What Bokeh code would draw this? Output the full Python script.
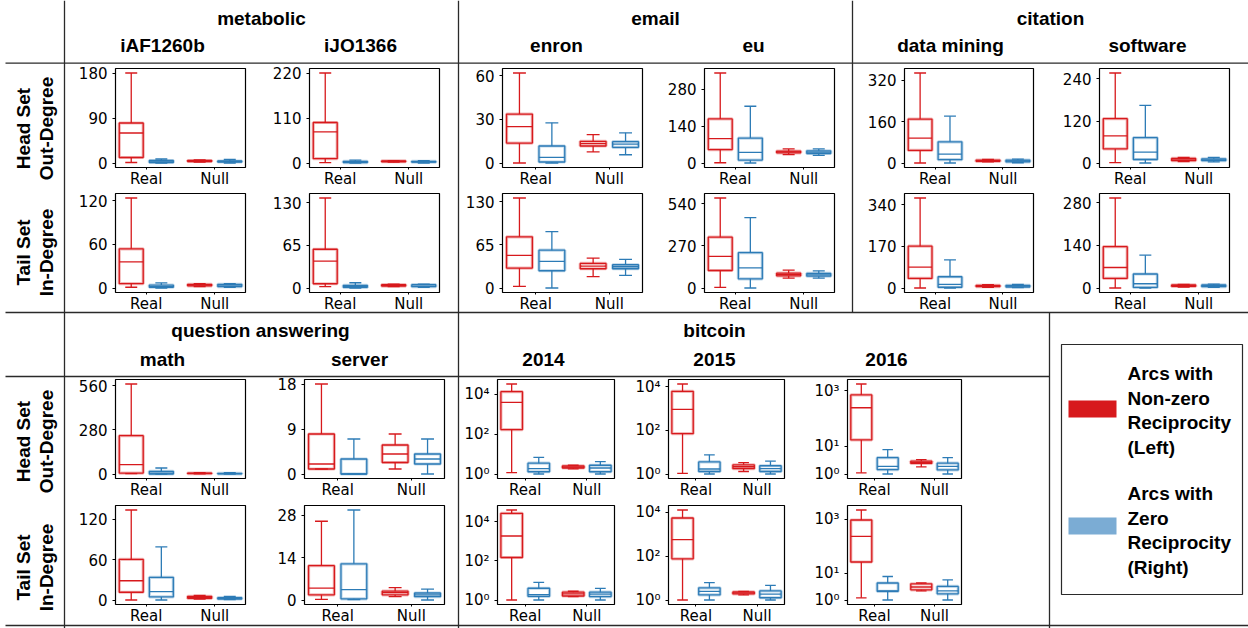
import math
import numpy as np
from bokeh.plotting import figure
from bokeh.models import Range1d, FixedTicker
from bokeh.core.properties import value
from bokeh.embed import file_html
from bokeh.resources import INLINE

# ---------------- data ----------------
CATEGORIES = ["Real", "Null"]
SERIES = ["Arcs with Non-zero Reciprocity (Left)", "Arcs with Zero Reciprocity (Right)"]
GROUP_TITLES = ["metabolic", "email", "citation", "question answering", "bitcoin"]
SUBTITLES = ["iAF1260b", "iJO1366", "enron", "eu", "data mining", "software",
             "math", "server", "2014", "2015", "2016"]
ROW_LABELS = [("Head Set", "Out-Degree"), ("Tail Set", "In-Degree")]
LEGEND_LINES = [["Arcs with", "Non-zero", "Reciprocity", "(Left)"],
                ["Arcs with", "Zero", "Reciprocity", "(Right)"]]

# each box: [low whisker, Q1, median, Q3, high whisker]
# order: Real/non-zero, Real/zero, Null/non-zero, Null/zero
IAF1260B_OUT = [[1, 11, 60, 80, 180], [0, 1, 2, 5, 8], [2, 3, 4, 5, 6], [0, 2, 3, 4, 7]]
IAF1260B_IN = [[1, 6, 36, 54, 124], [0, 1, 2, 4, 7], [2, 3, 4, 5, 6], [1, 2, 3, 5, 6]]
IJO1366_OUT = [[1, 10.5, 76, 99, 220], [0, 1, 2, 4, 7], [2, 3, 4, 5, 6], [0, 2, 3, 4, 6]]
IJO1366_IN = [[2, 6.5, 41, 59, 137], [0, 1, 2, 4, 8], [2, 3, 4, 5, 6], [1, 2, 3, 5, 6]]
ENRON_OUT = [[0, 13.7, 25, 33.7, 62], [0, 0.7, 3.9, 11.7, 27.7], [7.6, 11.7, 13.3, 14.9, 19.5], [5.7, 10.8, 13, 14.7, 20.8]]
ENRON_IN = [[2.5, 30, 49, 77, 135.5], [0, 26, 40, 57, 85], [17, 29, 33, 37, 45], [19, 29, 32, 35, 43]]
EU_OUT = [[1, 51, 92, 167, 341], [0, 11, 40, 94.6, 215], [32, 38.6, 42, 45, 53.5], [28.6, 36, 41, 46, 53.5]]
EU_IN = [[4, 112, 202, 325, 576], [0, 59, 129, 226, 451], [63, 78, 86.5, 95, 114], [63, 76, 84, 93, 110]]
DM_OUT = [[0, 48.5, 96, 170, 348], [0, 13, 34, 82, 181], [4, 6.4, 9, 11.5, 14], [1, 4, 7.7, 11.5, 15]]
DM_IN = [[0, 39, 85, 171, 368], [0, 3, 15, 46, 115], [2.7, 5.4, 8, 11, 13.5], [1.4, 4, 8, 11, 15]]
SW_OUT = [[2, 41, 78, 127, 257], [1, 11, 32, 73, 165], [5, 7.5, 10, 14, 17], [4, 7.5, 10, 13, 17]]
SW_IN = [[0, 31.6, 67.5, 136, 296], [0, 2, 14, 46, 108], [3.3, 5.4, 7.6, 10, 12], [2, 4.4, 7.6, 10, 13]]
MATH_OUT = [[2, 6, 59, 243, 570], [0, 0, 6, 17, 38], [0.5, 2, 4, 6, 8], [0, 1, 2, 4, 8]]
MATH_IN = [[0.5, 12, 29, 60.7, 133.7], [0.5, 5, 13, 34, 79], [2, 3, 4.4, 6, 7.3], [1, 2, 3, 4, 6]]
SERVER_OUT = [[1, 1, 2, 8, 18], [0, 0, 0, 3, 7], [1, 2.3, 4, 5.8, 8], [0, 2, 3, 4, 7]]
SERVER_IN = [[0.3, 1.8, 4, 11.4, 26], [0.2, 0.5, 3.5, 12, 29.7], [1.2, 1.8, 2.5, 3, 4.2], [0.1, 1.2, 1.8, 2.4, 3.7]]
BTC2014_OUT = [[1.17, 170, 3970, 13600, 33000], [1, 1.3, 1.86, 3.5, 6.9], [1.8, 2.0, 2.25, 2.54, 2.75], [1, 1.3, 2.0, 2.75, 4.2]]
BTC2014_IN = [[1, 149, 1870, 27000, 40000], [1, 1.55, 1.9, 4.0, 7.9], [1.5, 1.6, 2.05, 2.5, 2.8], [1, 1.5, 2.0, 2.5, 3.9]]
BTC2015_OUT = [[1.07, 71, 930, 6300, 13700], [1, 1.3, 1.7, 3.6, 7.6], [1.3, 1.75, 2.15, 2.65, 3.3], [1, 1.3, 1.75, 2.4, 3.9]]
BTC2015_IN = [[1, 76, 580, 5600, 13000], [1, 1.7, 2.5, 3.6, 6.2], [1.7, 1.9, 2.1, 2.35, 2.5], [1, 1.27, 1.85, 2.6, 4.7]]
BTC2016_OUT = [[1.1, 17, 247, 720, 1780], [1, 1.45, 1.9, 3.9, 7.6], [1.8, 2.4, 2.6, 2.9, 3.3], [1, 1.4, 1.9, 2.45, 3.9]]
BTC2016_IN = [[1.2, 26, 233, 950, 2240], [1, 2.1, 2.2, 4.3, 7.5], [2.2, 2.4, 3.05, 4.0, 4.3], [1, 1.7, 2.2, 3.2, 5.6]]

# y tick values per panel
IAF1260B_OUT_TICKS = [0, 90, 180]
IAF1260B_IN_TICKS = [0, 60, 120]
IJO1366_OUT_TICKS = [0, 110, 220]
IJO1366_IN_TICKS = [0, 65, 130]
ENRON_OUT_TICKS = [0, 30, 60]
ENRON_IN_TICKS = [0, 65, 130]
EU_OUT_TICKS = [0, 140, 280]
EU_IN_TICKS = [0, 270, 540]
DM_OUT_TICKS = [0, 160, 320]
DM_IN_TICKS = [0, 170, 340]
SW_OUT_TICKS = [0, 120, 240]
SW_IN_TICKS = [0, 140, 280]
MATH_OUT_TICKS = [0, 280, 560]
MATH_IN_TICKS = [0, 60, 120]
SERVER_OUT_TICKS = [0, 9, 18]
SERVER_IN_TICKS = [0, 14, 28]
BTC_TICKS_A = [1, 100, 10000]
BTC_TICKS_B = [1, 10, 1000]

# ---------------- styling / geometry ----------------
RED = "#d7191c"
BLUE = "#2c7bb6"
BLUE_PATCH = "#7bacd4"
LINE_COL = "#2a2a2a"
PAGE_W, PAGE_H = 1248, 628
SUP = str.maketrans("0123456789", "⁰¹²³⁴⁵⁶⁷⁸⁹")


def place(left, top):
    return {"position": "absolute", "left": f"{left}px", "top": f"{top}px"}


L, R, T, B = 46, 4, 4, 22
POS = [1 - 0.22, 1 + 0.22, 2 - 0.22, 2 + 0.22]
COLORS = [RED, BLUE, RED, BLUE]
BOX_W = 0.35


def make_panel(stats, ticks, log, fx, fy):
    fw, fh = fx[1] - fx[0], fy[1] - fy[0]
    vals = [v for s in stats for v in s]
    if log:
        lo, hi = math.log10(min(vals)), math.log10(max(vals))
        pad = 0.05 * (hi - lo)
        yr = Range1d(10 ** (lo - pad), 10 ** (hi + pad))
    else:
        lo, hi = min(vals), max(vals)
        pad = 0.05 * (hi - lo)
        yr = Range1d(lo - pad, hi + pad)
    p = figure(width=L + fw + R, height=T + fh + B, x_range=Range1d(0.55, 2.45), y_range=yr,
               y_axis_type="log" if log else "linear", output_backend="svg",
               toolbar_location=None, min_border_left=L, min_border_right=R,
               min_border_top=T, min_border_bottom=B, background_fill_color=None,
               border_fill_color=None, outline_line_color="black", outline_line_width=1.2,
               styles=place(fx[0] - L, fy[0] - T))
    p.grid.visible = False
    st = np.array(stats, dtype=float)
    lo_, q1, med, q3, hi_ = st.T
    cx = np.array(POS)
    # soft halo then crisp outline for the boxes
    p.vbar(x=cx, bottom=q1, top=q3, width=BOX_W, fill_color=None, line_color=COLORS,
           line_width=3.2, line_alpha=0.3)
    p.vbar(x=cx, bottom=q1, top=q3, width=BOX_W, fill_color=None, line_color=COLORS,
           line_width=1.3)
    p.segment(x0=cx, y0=q3, x1=cx, y1=hi_, line_color=COLORS, line_width=1.3)
    p.segment(x0=cx, y0=q1, x1=cx, y1=lo_, line_color=COLORS, line_width=1.3)
    p.segment(x0=cx - BOX_W / 4, y0=hi_, x1=cx + BOX_W / 4, y1=hi_, line_color=COLORS, line_width=1.3)
    p.segment(x0=cx - BOX_W / 4, y0=lo_, x1=cx + BOX_W / 4, y1=lo_, line_color=COLORS, line_width=1.3)
    p.segment(x0=cx - BOX_W / 2, y0=med, x1=cx + BOX_W / 2, y1=med, line_color=COLORS, line_width=1.3)

    p.xaxis.ticker = FixedTicker(ticks=[1, 2])
    p.xaxis.major_label_overrides = {1: CATEGORIES[0], 2: CATEGORIES[1]}
    p.yaxis.ticker = FixedTicker(ticks=ticks)
    if log:
        p.yaxis.major_label_overrides = {t: "10" + str(int(round(math.log10(t)))).translate(SUP) for t in ticks}
    else:
        p.yaxis.major_label_overrides = {t: str(t) for t in ticks}
    for ax in (p.xaxis[0], p.yaxis[0]):
        ax.axis_line_color = None
        ax.major_tick_in = 0
        ax.minor_tick_line_color = None
        ax.major_tick_line_color = "black"
        ax.major_label_text_font = "DejaVu Sans"
        ax.major_label_text_font_size = "15px"
        ax.major_label_text_color = "black"
    p.yaxis.major_tick_out = 3
    p.yaxis.major_label_standoff = 5
    p.xaxis.major_tick_out = 2
    p.xaxis.major_label_standoff = 0
    return p


# panel placements (reference-pixel frames)
TOP1, TOP2, BOT1, BOT2 = (68, 168), (193, 293), (379, 479), (505, 605)
PANELS = [
    (IAF1260B_OUT, IAF1260B_OUT_TICKS, False, (115, 245), TOP1),
    (IAF1260B_IN, IAF1260B_IN_TICKS, False, (115, 245), TOP2),
    (IJO1366_OUT, IJO1366_OUT_TICKS, False, (309, 439), TOP1),
    (IJO1366_IN, IJO1366_IN_TICKS, False, (309, 439), TOP2),
    (ENRON_OUT, ENRON_OUT_TICKS, False, (502, 642), TOP1),
    (ENRON_IN, ENRON_IN_TICKS, False, (502, 642), TOP2),
    (EU_OUT, EU_OUT_TICKS, False, (704, 834), TOP1),
    (EU_IN, EU_IN_TICKS, False, (704, 834), TOP2),
    (DM_OUT, DM_OUT_TICKS, False, (904, 1033), TOP1),
    (DM_IN, DM_IN_TICKS, False, (904, 1033), TOP2),
    (SW_OUT, SW_OUT_TICKS, False, (1099, 1229), TOP1),
    (SW_IN, SW_IN_TICKS, False, (1099, 1229), TOP2),
    (MATH_OUT, MATH_OUT_TICKS, False, (115, 245), BOT1),
    (MATH_IN, MATH_IN_TICKS, False, (115, 245), BOT2),
    (SERVER_OUT, SERVER_OUT_TICKS, False, (304, 444), BOT1),
    (SERVER_IN, SERVER_IN_TICKS, False, (304, 444), BOT2),
    (BTC2014_OUT, BTC_TICKS_A, True, (497, 614), BOT1),
    (BTC2014_IN, BTC_TICKS_A, True, (497, 614), BOT2),
    (BTC2015_OUT, BTC_TICKS_A, True, (668, 784), BOT1),
    (BTC2015_IN, BTC_TICKS_A, True, (668, 784), BOT2),
    (BTC2016_OUT, BTC_TICKS_B, True, (847, 961), BOT1),
    (BTC2016_IN, BTC_TICKS_B, True, (847, 961), BOT2),
]

# ---------------- background: table lines, headers, legend ----------------
bg = figure(width=PAGE_W, height=PAGE_H, x_range=Range1d(0, PAGE_W), y_range=Range1d(-PAGE_H, 0),
            output_backend="svg", toolbar_location=None, min_border=0,
            min_border_left=0, min_border_right=0, min_border_top=0, min_border_bottom=0,
            x_axis_location=None, y_axis_location=None, outline_line_color=None,
            background_fill_color="white", border_fill_color="white", styles=place(0, 0))
bg.grid.visible = False

seg = [(64, 0, 64, 628), (458, 0, 458, 628), (852, 0, 852, 312),
       (5, 62.7, 1248, 62.7), (5, 312, 1248, 312), (5, 376, 1049, 376),
       (1049, 312, 1049, 628), (5, 625, 1248, 625)]
bg.segment(x0=[s[0] for s in seg], y0=[-s[1] for s in seg], x1=[s[2] for s in seg],
           y1=[-s[3] for s in seg], line_color=LINE_COL, line_width=1.3)

HFONT = value("Liberation Sans")
bg.text(x=[261, 655, 1050, 260, 714], y=[-18, -18, -18, -330, -330], text=GROUP_TITLES,
        text_font=HFONT, text_font_style="bold", text_font_size=value("19px"),
        text_align="center", text_baseline="middle", text_color="black")
bg.text(x=[162, 360, 556, 753, 950, 1147, 162, 359, 543, 714, 886],
        y=[-44.5] * 6 + [-359] * 5, text=SUBTITLES,
        text_font=HFONT, text_font_style="bold", text_font_size=value("19px"),
        text_align="center", text_baseline="middle", text_color="black")
row_centers = [128, 252, 441, 567]
rl_x, rl_y, rl_t = [], [], []
for i, yc in enumerate(row_centers):
    a, b = ROW_LABELS[i % 2]
    rl_x += [23, 45.5]
    rl_y += [-yc, -yc]
    rl_t += [a, b]
bg.text(x=rl_x, y=rl_y, text=rl_t, angle=math.pi / 2, text_font=HFONT, text_font_style="bold",
        text_font_size=value("19px"), text_align="center", text_baseline="middle",
        text_color="black")

# legend
bg.quad(left=[1061], right=[1242], top=[-344], bottom=[-594], fill_color=None,
        line_color=LINE_COL, line_width=1.2)
bg.quad(left=[1068, 1068], right=[1116, 1116], top=[-400, -517], bottom=[-417, -534],
        fill_color=[RED, BLUE_PATCH], line_color=None)
lg_y = [373, 397.5, 422, 446.5, 493, 517.5, 542, 566.5]
bg.text(x=[1127] * 8, y=[-v for v in lg_y], text=LEGEND_LINES[0] + LEGEND_LINES[1],
        text_font=HFONT, text_font_style="bold", text_font_size=value("19px"),
        text_align="left", text_baseline="middle", text_color="black")

panels = [make_panel(*spec) for spec in PANELS]

open("out.html", "w").write(file_html([bg] + panels, INLINE))
